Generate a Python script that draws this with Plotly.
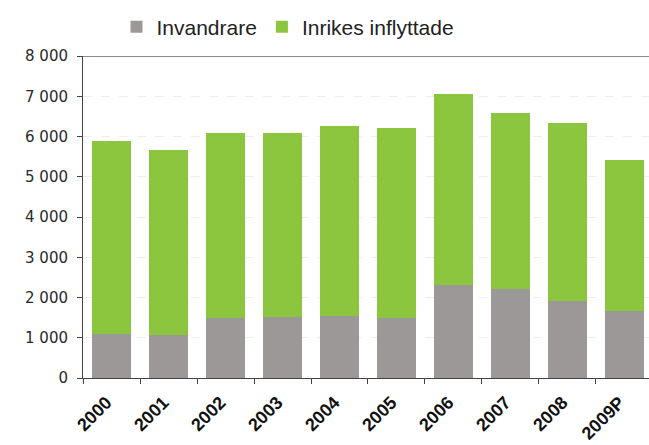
import plotly.graph_objects as go

years = ["2000", "2001", "2002", "2003", "2004", "2005", "2006", "2007", "2008", "2009P"]
invandrare = [1100, 1080, 1480, 1520, 1540, 1480, 2310, 2210, 1910, 1670]
inrikes = [4800, 4590, 4610, 4560, 4720, 4720, 4750, 4380, 4420, 3750]

grey = "#9c9898"
green = "#8cc63f"

fig = go.Figure()
fig.add_trace(go.Bar(x=years, y=invandrare, name="Invandrare",
                     marker=dict(color=grey, line=dict(width=0))))
fig.add_trace(go.Bar(x=years, y=inrikes, name="Inrikes inflyttade",
                     marker=dict(color=green, line=dict(width=0))))

fig.update_layout(
    barmode="stack",
    bargap=0.32,
    width=649, height=445,
    margin=dict(l=83, r=0, t=56, b=67, autoexpand=False),
    paper_bgcolor="white",
    plot_bgcolor="white",
    separators=", ",
    font=dict(family="Liberation Sans, Arial, sans-serif", color="#2a2a2a"),
    legend=dict(
        orientation="h",
        xref="container", yref="container",
        x=288/649, xanchor="center",
        y=1 - 27/445, yanchor="middle",
        font=dict(family="Liberation Sans Narrow, Arial Narrow, Liberation Sans, sans-serif",
                  size=21, color="#222"),
        itemwidth=30,
        traceorder="normal",
    ),
    showlegend=True,
)

fig.update_xaxes(
    type="category",
    range=[-0.5, 9.43],
    tickson="boundaries",
    ticks="outside", ticklen=5, tickcolor="#444",
    showline=True, linecolor="#444", linewidth=1,
    tickangle=-45,
    tickfont=dict(family="Liberation Sans, Arial, sans-serif", size=18, color="#111"),
    showgrid=False,
    automargin=False,
    ticklabelstandoff=6,
    ticklabelshift=-5,
    ticktext=[f"<b>{y}</b>" for y in years], tickvals=years,
)
fig.update_yaxes(
    range=[0, 8000],
    dtick=1000,
    tickformat=",d",
    ticks="outside", ticklen=5, tickcolor="#444",
    showline=True, linecolor="#444", linewidth=1,
    tickfont=dict(family="DejaVu Sans, sans-serif", size=15, color="#2a2a2a"),
    showgrid=True, gridcolor="#f3ecec", gridwidth=1, griddash="dash",
    zeroline=False,
    ticklabelstandoff=6,
    automargin=False,
)

fig.add_shape(type="line", xref="paper", yref="y", x0=0, x1=1, y0=8000, y1=8000,
              line=dict(color="#6e6262", width=1.5))

fig.write_html("out.html", config={"responsive": False, "displayModeBar": False},
               post_script="document.body.style.margin='0px';")
